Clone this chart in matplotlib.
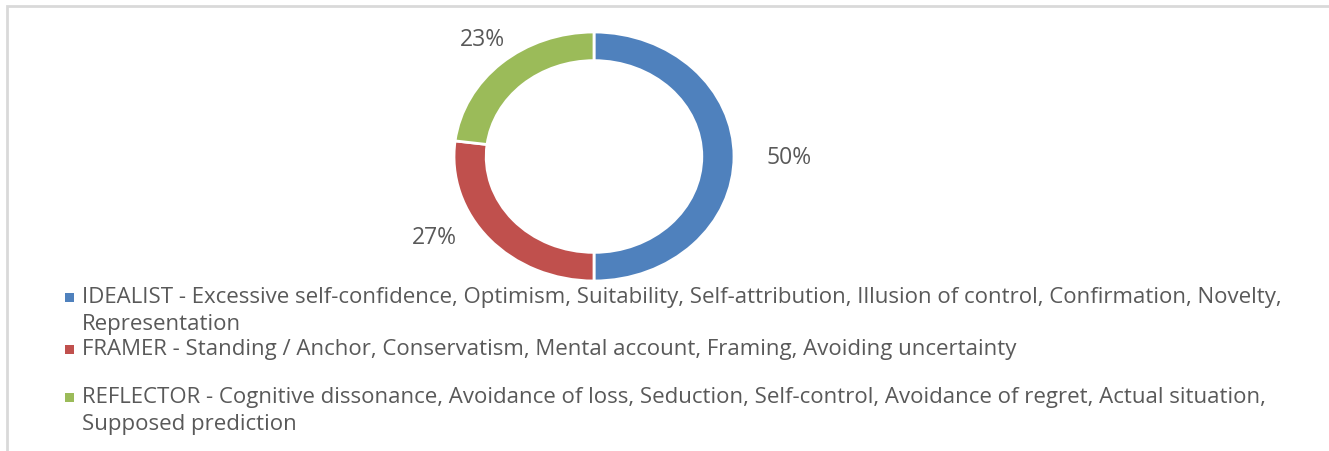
import matplotlib.pyplot as plt
from matplotlib.patches import Rectangle

# data
categories = ["IDEALIST", "FRAMER", "REFLECTOR"]
shares = [50, 27, 23]
pct_labels = ["50%", "27%", "23%"]
legend_lines = [
    ["IDEALIST - Excessive self-confidence, Optimism, Suitability, Self-attribution, Illusion of control, Confirmation, Novelty,",
     "Representation"],
    ["FRAMER - Standing / Anchor, Conservatism, Mental account, Framing, Avoiding uncertainty"],
    ["REFLECTOR - Cognitive dissonance, Avoidance of loss, Seduction, Self-control, Avoidance of regret, Actual situation,",
     "Supposed prediction"],
]
colors = ["#4F81BD", "#C0504D", "#9BBB59"]
text_color = "#595959"

plt.rcParams["font.family"] = ["Open Sans", "DejaVu Sans"]

W, H = 1329, 452
fig = plt.figure(figsize=(W / 100, H / 100), dpi=100)
fig.patch.set_facecolor("white")

# chart border (only top and left visible in the crop)
fig.add_artist(Rectangle((7 / W, -0.1), 1.2, (H - 7) / H + 0.1,
                         transform=fig.transFigure, fill=False,
                         edgecolor="#d9d9d9", linewidth=2))

# donut axes: stretched horizontally like the original
cx, cy, rx, ry = 594, 157.5, 140, 124.5
ax = fig.add_axes([(cx - rx) / W, (H - cy - ry) / H, 2 * rx / W, 2 * ry / H])
ax.pie(shares, colors=colors, startangle=90, counterclock=False,
       wedgeprops=dict(width=0.23, edgecolor="white", linewidth=2))
ax.set_aspect("auto")
ax.set_xlim(-1, 1)
ax.set_ylim(-1, 1)
ax.axis("off")

label_pos = [(1.39, 0.0), (-1.14, -0.65), (-0.80, 0.94)]
for lab, (x, y) in zip(pct_labels, label_pos):
    ax.text(x, y, lab, ha="center", va="center", fontsize=16.5,
            color=text_color, clip_on=False)

# legend, laid out like the Excel legend
line_y = [[298, 325], [350], [398, 425]]
for lines, ys, c in zip(legend_lines, line_y, colors):
    fig.add_artist(Rectangle((65 / W, 1 - 302.5 / H + (298 - ys[0]) / H), 9 / W, 9 / H,
                             transform=fig.transFigure, facecolor=c, edgecolor="none"))
    for txt, y in zip(lines, ys):
        fig.text(82 / W, 1 - y / H, txt, ha="left", va="center",
                 fontsize=16, color=text_color)

fig.savefig("out.png", dpi=100)
